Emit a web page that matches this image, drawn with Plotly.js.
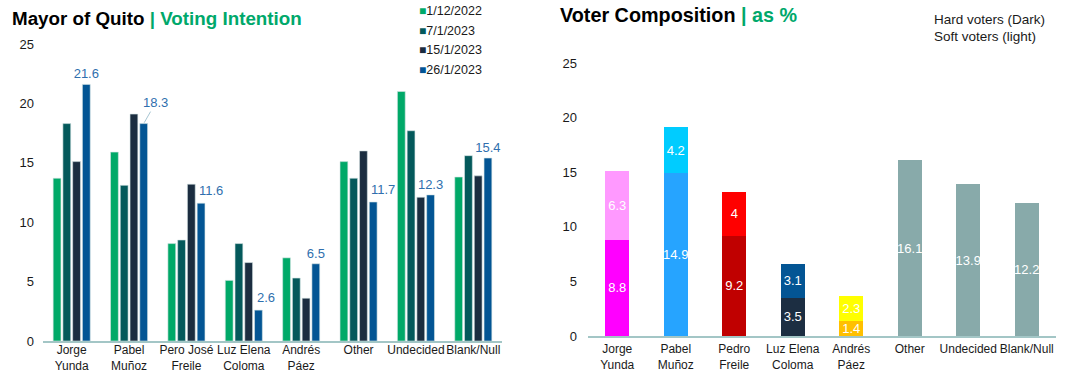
<!DOCTYPE html>
<html>
<head>
<meta charset="utf-8">
<script src="https://cdn.plot.ly/plotly-3.0.1.min.js"></script>
<style>
html,body{margin:0;padding:0;background:#fff;}
#wrap{position:relative;width:1069px;height:374px;}
#left{position:absolute;left:0;top:0;width:535px;height:374px;}
#right{position:absolute;left:535px;top:0;width:534px;height:374px;}
</style>
</head>
<body>
<div id="wrap"><div id="left"></div><div id="right"></div></div>
<script>
// ---------- Data: left chart ----------
const leftCategories = ["Jorge<br>Yunda","Pabel<br>Muñoz","Pero José<br>Freile","Luz Elena<br>Coloma","Andrés<br>Páez","Other","Undecided","Blank/Null"];
const seriesNames = ["1/12/2022","7/1/2023","15/1/2023","26/1/2023"];
const s1 = [13.7, 15.9, 8.2, 5.1, 7.0, 15.1, 21.0, 13.8];
const s2 = [18.3, 13.1, 8.5, 8.2, 5.3, 13.7, 17.7, 15.6];
const s3 = [15.1, 19.1, 13.2, 6.6, 3.6, 16.0, 12.1, 13.9];
const s4 = [21.6, 18.3, 11.6, 2.6, 6.5, 11.7, 12.3, 15.4];
const seriesColors = ["#00A968","#04595B","#1B2D40","#035594"];

// ---------- Data: right chart ----------
const rightCategories = ["Jorge<br>Yunda","Pabel<br>Muñoz","Pedro<br>Freile","Luz Elena<br>Coloma","Andrés<br>Páez","Other","Undecided","Blank/Null"];
const hardVoters = [8.8, 14.9, 9.2, 3.5, 1.4, 16.1, 13.9, 12.2];
const softVoters = [6.3, 4.2, 4.0, 3.1, 2.3, null, null, null];
const hardColors = ["#FF00FF","#26A4FF","#C00000","#1C2E42","#FFC000","#88AAAA","#88AAAA","#88AAAA"];
const softColors = ["#FF99FF","#00CCFF","#FF0000","#035594","#FFFF00","#88AAAA","#88AAAA","#88AAAA"];
const noteLines = ["Hard voters (Dark)","Soft voters (light)"];

const FONT = "Liberation Sans, Arial, Helvetica, sans-serif";
const GREEN = "#00A86B";
const LABEL_BLUE = "#2F6FAE";
const AXIS_LINE = "#A3C6C6";

// ---------- Left chart ----------
const L = {w: 535, h: 374, l: 43, r: 33, t: 44, b: 33};
const pxL = x => (x - L.l) / (L.w - L.l - L.r);
const pyL = y => (L.h - L.b - y) / (L.h - L.t - L.b);

const bargapL = 0.32, groupgapL = 0.2;
const slot = (1 - bargapL) / 4;
const calloutIndex = 1; // Pabel Muñoz label drawn with a leader line
// labels whose neighbouring (15/1/2023) bar is taller are nudged right
const nudged = s4.map((v, k) => k !== calloutIndex && s3[k] > v);

const allSeries = [s1, s2, s3, s4];
const leftTraces = allSeries.map((vals, i) => {
  const t = {
    type: "bar",
    x: leftCategories,
    y: vals,
    name: seriesNames[i],
    marker: {color: seriesColors[i], line: {color: "#d5e4e4", width: 0.6}},
    showlegend: false,
    cliponaxis: false
  };
  if (i === 3) {
    t.text = vals.map((v, k) => (k === calloutIndex || nudged[k]) ? "" : String(v));
    t.textposition = "outside";
    t.textangle = 0;
    t.textfont = {color: LABEL_BLUE, size: 13, family: FONT};
    t.constraintext = "none";
  }
  return t;
});

const legendAnns = seriesNames.map((n, i) => ({
  xref: "paper", yref: "paper",
  x: pxL(417), y: pyL(11 + i * 19.5),
  xanchor: "left", yanchor: "middle",
  text: '<span style="color:' + seriesColors[i] + ';font-size:12px">■</span>' + n,
  showarrow: false,
  font: {size: 12.5, color: "#1a1a1a", family: FONT}
}));

const barLeftOffset = slot * 1.5 - slot * (1 - groupgapL) / 2;
const nudgedAnns = [];
s4.forEach((v, k) => {
  if (!nudged[k]) return;
  nudgedAnns.push({
    xref: "x", yref: "y", x: k + barLeftOffset, y: v,
    xanchor: "left", yanchor: "bottom", yshift: 3, showarrow: false,
    text: String(v), font: {color: LABEL_BLUE, size: 13, family: FONT}
  });
});

const calloutAnn = {
  xref: "x", yref: "y",
  x: calloutIndex + slot * 1.5, y: s4[calloutIndex],
  text: String(s4[calloutIndex]),
  showarrow: true, arrowhead: 0, arrowwidth: 0.8, arrowcolor: "#8FB6C6",
  ax: 12, ay: -21, standoff: 1,
  font: {color: LABEL_BLUE, size: 13, family: FONT}
};

const leftLayout = {
  width: L.w, height: L.h,
  margin: {l: L.l, r: L.r, t: L.t, b: L.b, pad: 0, autoexpand: false},
  paper_bgcolor: "#fff", plot_bgcolor: "#fff",
  font: {family: FONT, color: "#1a1a1a", size: 13},
  barmode: "group", bargap: bargapL, bargroupgap: groupgapL,
  showlegend: false,
  title: {
    text: '<b>Mayor of Quito </b><b><span style="color:' + GREEN + '">| Voting Intention</span></b>',
    xref: "container", yref: "container",
    x: 12 / L.w, xanchor: "left", y: 1 - 18 / L.h, yanchor: "middle",
    font: {size: 18.8, color: "#000", family: FONT}
  },
  xaxis: {
    type: "category", showgrid: false, zeroline: false, automargin: false,
    showline: true, linecolor: AXIS_LINE, linewidth: 1.5, tickangle: 0,
    ticks: "", ticklabelstandoff: -3, tickfont: {size: 12, color: "#1a1a1a"}, fixedrange: true
  },
  yaxis: {
    range: [0, 25], dtick: 5, showgrid: false, zeroline: false, showline: false, automargin: false,
    ticks: "", ticklabelstandoff: 8, tickfont: {size: 13, color: "#1a1a1a"}, fixedrange: true
  },
  annotations: legendAnns.concat(nudgedAnns, [calloutAnn])
};

Plotly.newPlot("left", leftTraces, leftLayout, {displayModeBar: false, staticPlot: true});

// ---------- Right chart ----------
const R = {w: 534, h: 374, l: 53, r: 13, t: 63, b: 38, off: 535};
const pxR = x => (x - R.off - R.l) / (R.w - R.l - R.r);
const pyR = y => (R.h - R.b - y) / (R.h - R.t - R.b);

const rightTraces = [
  {
    type: "bar", x: rightCategories, y: hardVoters, name: "Hard voters",
    marker: {color: hardColors},
    text: hardVoters.map(v => v == null ? "" : String(v)),
    textposition: "inside", insidetextanchor: "middle", textangle: 0,
    textfont: {color: "#fff", size: 13, family: FONT},
    constraintext: "none", showlegend: false
  },
  {
    type: "bar", x: rightCategories, y: softVoters, name: "Soft voters",
    marker: {color: softColors},
    text: softVoters.map(v => v == null ? "" : String(v)),
    textposition: "inside", insidetextanchor: "middle", textangle: 0,
    textfont: {color: "#fff", size: 13, family: FONT},
    constraintext: "none", showlegend: false
  }
];

const rightLayout = {
  width: R.w, height: R.h,
  margin: {l: R.l, r: R.r, t: R.t, b: R.b, pad: 0, autoexpand: false},
  paper_bgcolor: "#fff", plot_bgcolor: "#fff",
  font: {family: FONT, color: "#1a1a1a", size: 13},
  barmode: "stack", bargap: 0.59,
  uniformtext: {mode: "show", minsize: 13},
  showlegend: false,
  title: {
    text: '<b>Voter Composition </b><b><span style="color:' + GREEN + '">| as %</span></b>',
    xref: "container", yref: "container",
    x: 25 / R.w, xanchor: "left", y: 1 - 15 / R.h, yanchor: "middle",
    font: {size: 19.8, color: "#000", family: FONT}
  },
  xaxis: {
    type: "category", showgrid: false, zeroline: false, automargin: false,
    showline: true, linecolor: AXIS_LINE, linewidth: 1.5, tickangle: 0,
    ticks: "", ticklabelstandoff: 1, tickfont: {size: 12, color: "#1a1a1a"}, fixedrange: true
  },
  yaxis: {
    range: [0, 25], dtick: 5, showgrid: false, zeroline: false, showline: false, automargin: false,
    ticks: "", ticklabelstandoff: 10, tickfont: {size: 13, color: "#1a1a1a"}, fixedrange: true
  },
  annotations: noteLines.map((t, i) => ({
    xref: "paper", yref: "paper", x: pxR(932), y: pyR(20 + i * 17),
    xanchor: "left", yanchor: "middle", showarrow: false, align: "left",
    text: t, font: {size: 13.5, color: "#1a1a1a", family: FONT}
  }))
};

Plotly.newPlot("right", rightTraces, rightLayout, {displayModeBar: false, staticPlot: true});
</script>
</body>
</html>
